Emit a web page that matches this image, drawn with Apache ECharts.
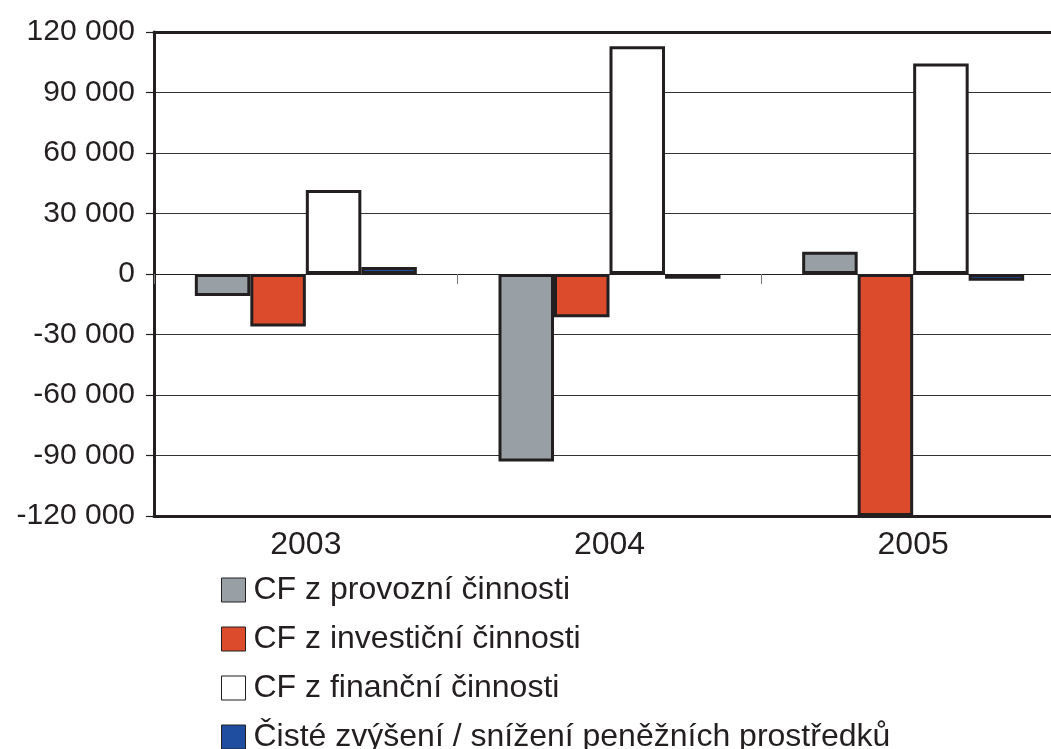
<!DOCTYPE html>
<html>
<head>
<meta charset="utf-8">
<script src="https://cdn.jsdelivr.net/npm/echarts@6/dist/echarts.min.js"></script>
<style>
  html, body { margin: 0; padding: 0; background: #fff; }
  #chart { width: 1051px; height: 749px; }
</style>
</head>
<body>
<div id="chart"></div>
<script>
  // roky
  const years = ['2003', '2004', '2005']
  // hodnoty
  const provozni = [-10900, -93000, 11000]
  const investicni = [-26000, -21400, -120000]
  const financni = [41700, 112900, 104400]
  const cisteZmena = [3500, -2300, -3300]
  const seriesNames = ['CF z provozní činnosti', 'CF z investiční činnosti', 'CF z finanční činnosti', 'Čisté zvýšení / snížení peněžních prostředků']
  const yTicks = [-120000, -90000, -60000, -30000, 0, 30000, 60000, 90000, 120000]

  const dark = '#231f20'
  const fmt = v => {
    let s = String(Math.abs(v)).replace(/\B(?=(\d{3})+(?!\d))/g, ' ')
    return (v < 0 ? '-' : '') + s
  }

  let myChart = echarts.init(document.getElementById('chart'))
  const mkBar = (name, data, color) => ({
    name: name,
    type: 'bar',
    data: data,
    barWidth: 55.5,
    barGap: 0,
    itemStyle: {color: color, borderColor: dark, borderWidth: 3},
    emphasis: {disabled: true}
  })
  myChart.setOption({
    animation: false,
    // pravý okraj grafu je v originále oříznutý
    grid: {left: 154, width: 911, top: 32, bottom: 233, containLabel: false, outerBoundsMode: 'none'},
    xAxis: [{
      type: 'category',
      data: years,
      position: 'bottom',
      axisLine: {onZero: false, lineStyle: {color: dark, width: 3}},
      axisTick: {show: false},
      axisLabel: {color: dark, fontSize: 32, fontFamily: 'Liberation Sans, Arial, sans-serif', margin: 13}
    }, {
      type: 'category',
      data: years,
      position: 'bottom',
      axisLine: {onZero: true, lineStyle: {color: dark, width: 1.2}},
      axisTick: {show: true, length: 10, lineStyle: {color: '#777', width: 1}},
      axisLabel: {show: false}
    }, {
      type: 'category',
      data: years,
      position: 'top',
      axisLine: {onZero: false, lineStyle: {color: dark, width: 3}},
      axisTick: {show: false},
      axisLabel: {show: false}
    }],
    yAxis: {
      type: 'value',
      min: yTicks[0],
      max: yTicks[yTicks.length - 1],
      interval: 30000,
      axisLine: {show: true, lineStyle: {color: dark, width: 3}},
      axisTick: {show: true, length: 8, lineStyle: {color: dark, width: 1.2}},
      splitLine: {lineStyle: {color: '#333', width: 1.2}},
      axisLabel: {color: dark, fontSize: 30, fontFamily: 'Liberation Sans, Arial, sans-serif', margin: 19, formatter: fmt}
    },
    legend: {
      orient: 'vertical',
      left: 221,
      top: 574,
      height: 200,
      padding: 0,
      icon: 'rect',
      itemWidth: 24,
      itemHeight: 24,
      itemGap: 17,
      data: seriesNames,
      itemStyle: {borderWidth: 1, borderColor: dark},
      textStyle: {color: dark, fontSize: 32, lineHeight: 31, padding: [0, 0, 0, 3], fontFamily: 'Liberation Sans, Arial, sans-serif'}
    },
    series: [
      mkBar(seriesNames[0], provozni, '#989fa5'),
      mkBar(seriesNames[1], investicni, '#dc4c2c'),
      mkBar(seriesNames[2], financni, '#ffffff'),
      mkBar(seriesNames[3], cisteZmena, '#1f4ea0')
    ]
  })
</script>
</body>
</html>
